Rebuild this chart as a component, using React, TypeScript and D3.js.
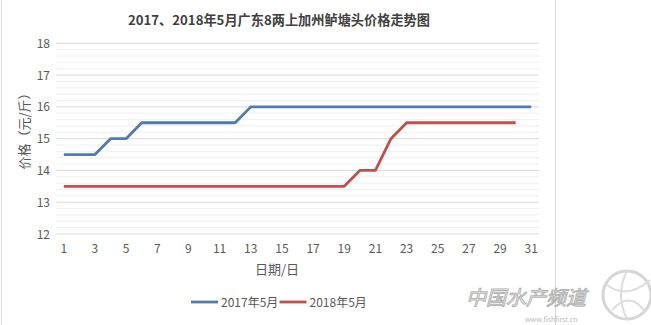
import React from "react";
import * as d3 from "d3";

const days: number[] = d3.range(1, 32);
const price2017: number[] = [14.5, 14.5, 14.5, 15, 15, 15.5, 15.5, 15.5, 15.5, 15.5, 15.5, 15.5, 16, 16, 16, 16, 16, 16, 16, 16, 16, 16, 16, 16, 16, 16, 16, 16, 16, 16, 16];
const price2018: number[] = [13.5, 13.5, 13.5, 13.5, 13.5, 13.5, 13.5, 13.5, 13.5, 13.5, 13.5, 13.5, 13.5, 13.5, 13.5, 13.5, 13.5, 13.5, 13.5, 14, 14, 15, 15.5, 15.5, 15.5, 15.5, 15.5, 15.5, 15.5, 15.5];
const yTicks: number[] = [12, 13, 14, 15, 16, 17, 18];
const xTickLabels: number[] = d3.range(1, 32, 2);
const seriesNames: string[] = ["2017年5月", "2018年5月"];
const title = "2017、2018年5月广东8两上加州鲈塘头价格走势图";
const yTitle = "价格（元/斤）";
const xTitle = "日期/日";

const W = 651;
const H = 325;
const left = 56;
const right = 539;
const top = 43.3;
const bottom = 234;
const colors = ["#4f7bb0", "#bf504d"];
const font = "'Noto Sans CJK SC', 'Noto Sans', sans-serif";
const gray = "#595959";

export default function App() {
  const x = d3.scaleBand<number>().domain(days).range([left, right]);
  const xc = (d: number) => (x(d) as number) + x.bandwidth() / 2;
  const y = d3.scaleLinear().domain([12, 18]).range([bottom, top]);
  const minor = d3.range(12, 18.001, 0.2).filter((v) => Math.abs(v - Math.round(v)) > 0.01);
  const line = d3
    .line<number>()
    .x((_, i) => xc(days[i]))
    .y((v) => y(v));

  return (
    <svg
      width={W}
      height={H}
      style={{ position: "absolute", left: 0, top: 0, background: "#fff" }}
      fontFamily={font}
    >
      <rect x={0} y={0} width={W} height={H} fill="#fff" />
      <line x1={1.5} x2={1.5} y1={0} y2={H} stroke="#d9d9d9" />
      <line x1={555.5} x2={555.5} y1={0} y2={H} stroke="#d9d9d9" />
      <text x={279} y={25} textAnchor="middle" fontSize={13.2} fontWeight="bold" fill="#404040">
        {title}
      </text>
      {minor.map((v) => (
        <line key={"m" + v} x1={left} x2={right} y1={y(v)} y2={y(v)} stroke="#f0f0f0" />
      ))}
      {yTicks.map((v) => (
        <g key={"t" + v}>
          <line x1={left} x2={right} y1={y(v)} y2={y(v)} stroke="#d9d9d9" />
          <text x={50} y={y(v) + 4.5} textAnchor="end" fontSize={12} fill={gray}>
            {v}
          </text>
        </g>
      ))}
      {xTickLabels.map((d) => (
        <text key={"x" + d} x={xc(d)} y={253} textAnchor="middle" fontSize={12} fill={gray}>
          {d}
        </text>
      ))}
      <text x={277} y={274} textAnchor="middle" fontSize={13} fill={gray}>
        {xTitle}
      </text>
      <text
        transform={`translate(29,128) rotate(-90)`}
        textAnchor="middle"
        fontSize={13}
        fill={gray}
      >
        {yTitle}
      </text>
      <path d={line(price2017) || ""} fill="none" stroke={colors[0]} strokeWidth={2.8} strokeLinejoin="round" />
      <path d={line(price2018) || ""} fill="none" stroke={colors[1]} strokeWidth={2.8} strokeLinejoin="round" />
      {seriesNames.map((n, i) => {
        const lx = 191 + i * 88.5;
        return (
          <g key={n}>
            <line x1={lx} x2={lx + 27} y1={302} y2={302} stroke={colors[i]} strokeWidth={2.8} />
            <text x={lx + 30} y={306.5} fontSize={12} fill={gray}>
              {n}
            </text>
          </g>
        );
      })}
      <g opacity={0.85}>
        <circle cx={627} cy={295} r={24} fill="none" stroke="#d0d0d0" strokeWidth={3} />
        <path d="M607,285 Q627,300 650,280 M612,310 Q630,290 645,312 M627,271 Q615,295 627,319" fill="none" stroke="#d8d8d8" strokeWidth={2} />
        <text x={466} y={305} fontSize={20} fontStyle="italic" fill="#fff" stroke="#a8a8a8" strokeWidth={1}>
          中国水产频道
        </text>
        <text x={525} y={322} fontSize={7} fill="#b0b0b0">
          www.fishfirst.cn
        </text>
      </g>
    </svg>
  );
}
